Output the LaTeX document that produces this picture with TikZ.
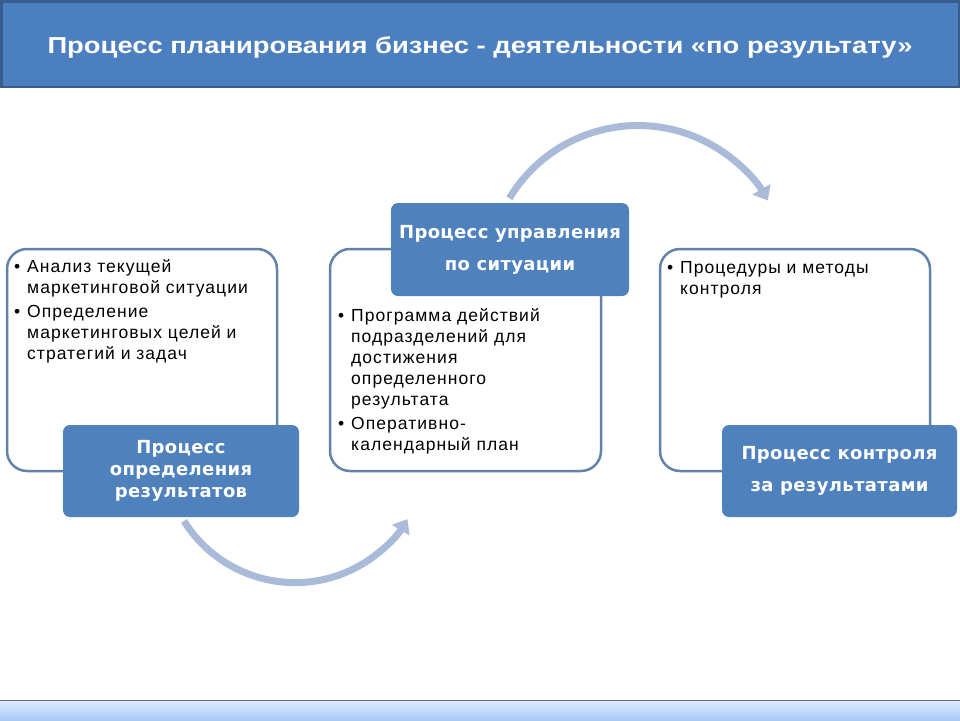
\documentclass[tikz,border=0pt]{standalone}
\usepackage{fontspec}
\setmainfont{Liberation Sans}
\newfontfamily\boxfont{DejaVu Sans}
\usetikzlibrary{arrows.meta}
\definecolor{hdrblue}{RGB}{76,127,191}
\definecolor{hdrborder}{RGB}{56,93,140}
\definecolor{boxblue}{RGB}{79,129,189}
\definecolor{outlinec}{RGB}{98,130,172}
\definecolor{arcblue}{RGB}{170,187,217}
\definecolor{stripTop}{RGB}{222,236,253}
\definecolor{stripBot}{RGB}{170,201,245}
\definecolor{stripline}{RGB}{95,105,125}
\newcommand{\bitem}[1]{\hangindent=13pt\hangafter=1\noindent\makebox[13pt][l]{\textbullet}#1\par}
\tikzset{
  outbox/.style={draw=outlinec, line width=2.5pt, fill=white, rounded corners=20pt, inner sep=0pt},
  bluebox/.style={fill=boxblue, rounded corners=7pt, text=white, align=center, inner sep=0pt,
     font=\boxfont\bfseries\addfontfeature{LetterSpace=2}\fontsize{18}{22}\selectfont},
  bluebox2/.style={bluebox, font=\boxfont\bfseries\addfontfeature{LetterSpace=2}\fontsize{18}{32}\selectfont},
  bodytext/.style={text width=270pt, inner sep=0pt, align=left,
     font=\addfontfeature{LetterSpace=6}\fontsize{17.5}{21}\selectfont},
  arcarrow/.style={draw=arcblue, line width=7pt, -{Triangle[length=13pt,width=20pt]}}
}
\begin{document}
\begin{tikzpicture}[x=1pt,y=-1pt]
\useasboundingbox (0,0) rectangle (960,720);
% header
\fill[hdrblue] (0,0) rectangle (960,88);
\draw[hdrborder, line width=2.5pt] (1.25,1.25) rectangle (958.75,86.75);
\node[anchor=base, text=white, inner sep=0pt, font=\bfseries\fontsize{23}{26}\selectfont] (title) at (480,53)
  {\resizebox{865pt}{\height}{Процесс планирования бизнес - деятельности «по результату»}};
% bottom strip
\shade[top color=stripTop, bottom color=stripBot] (0,700) rectangle (960,720);
\draw[stripline, line width=1.2pt] (0,700.6) -- (960,700.6);
% arcs
\coordinate (a1s) at (184,521);
\coordinate (a2s) at (509.4,198.3);
\draw[arcarrow] (a1s) arc[start angle=148, end angle=31, radius=131] coordinate (a1e);
\draw[arcarrow] (a2s) arc[start angle=-149, end angle=-30, radius=150] coordinate (a2e);
% outline boxes
\node[outbox, minimum width=270pt, minimum height=222pt] (o1) at (142,360) {};
\node[outbox, minimum width=271pt, minimum height=222pt] (o2) at (465.5,360) {};
\node[outbox, minimum width=270pt, minimum height=222pt] (o3) at (795,360) {};
% body texts
\node[bodytext, anchor=base west] (t1) at (14,272)
  {\bitem{Анализ текущей\newline маркетинговой ситуации}\vspace{3pt}\bitem{Определение\newline маркетинговых целей и\newline стратегий и задач}};
\node[bodytext, anchor=base west] (t2) at (338,321)
  {\bitem{Программа действий\newline подразделений для\newline достижения\newline определенного\newline результата}\vspace{3pt}\bitem{Оперативно-\newline календарный план}};
\node[bodytext, anchor=base west] (t3) at (667,273)
  {\bitem{Процедуры и методы\newline контроля}};
% blue boxes
\node[bluebox, minimum width=236pt, minimum height=92pt] (b1) at (181,471) {Процесс\\определения\\результатов};
\node[bluebox2, minimum width=238pt, minimum height=93pt] (b2) at (510,249.5) {Процесс управления\\по ситуации};
\node[bluebox2, minimum width=235pt, minimum height=92pt] (b3) at (839.5,471) {Процесс контроля\\за результатами};
\end{tikzpicture}
\end{document}
